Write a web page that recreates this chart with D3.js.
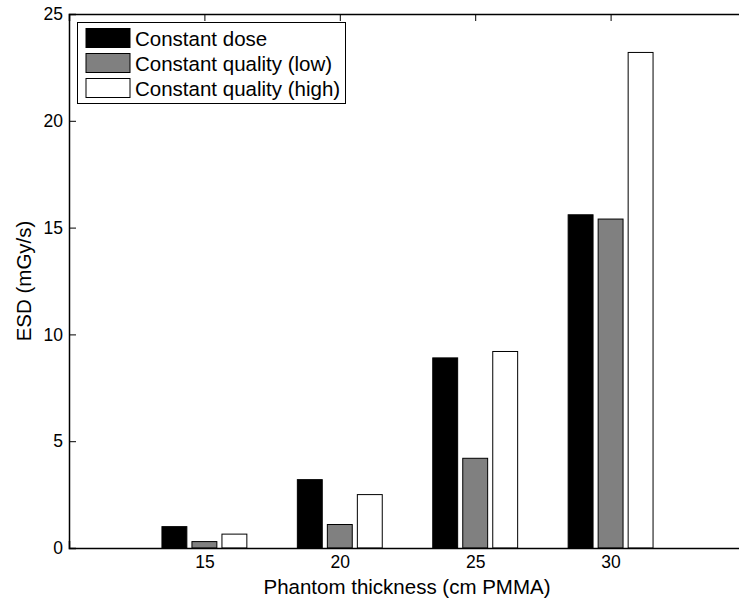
<!DOCTYPE html>
<html>
<head>
<meta charset="utf-8">
<script src="https://cdn.jsdelivr.net/npm/d3@7"></script>
<style>
  html, body { margin: 0; padding: 0; background: #fff; overflow: hidden; }
  svg { display: block; }
  text { font-family: "Liberation Sans", Arial, Helvetica, sans-serif; fill: #000; }
</style>
</head>
<body>
<div id="chart"></div>
<script>
// ---- data ----
const categories = [15, 20, 25, 30];
const seriesNames = ["Constant dose", "Constant quality (low)", "Constant quality (high)"];
const constantDose = [1.0, 3.2, 8.9, 15.6];
const qualityLow = [0.3, 1.1, 4.2, 15.4];
const qualityHigh = [0.65, 2.5, 9.2, 23.2];
const seriesColors = ["#000000", "#808080", "#ffffff"];
const yTicks = [0, 5, 10, 15, 20, 25];
const xTicks = [15, 20, 25, 30];
const xTicksTop = [15, 20, 25, 30, 35];

const series = [constantDose, qualityLow, qualityHigh];

const W = 739, H = 603;
const m = { left: 69, top: 14, right: 746, bottom: 548 };

const svg = d3.select("#chart").append("svg")
  .attr("width", W).attr("height", H);

const x = d3.scaleLinear().domain([10, 35]).range([m.left, m.right]);
const y = d3.scaleLinear().domain([0, 25]).range([m.bottom, m.top]);
const sub = d3.scaleBand().domain(d3.range(series.length))
  .range([-45, 45]).paddingInner(0.17).paddingOuter(0.085);

// bars
series.forEach((vals, si) => {
  svg.append("g").selectAll("rect")
    .data(vals.map((v, i) => ({ c: categories[i], v })))
    .join("rect")
    .attr("x", d => x(d.c) + sub(si))
    .attr("y", d => y(d.v))
    .attr("width", sub.bandwidth())
    .attr("height", d => y(0) - y(d.v))
    .attr("fill", seriesColors[si])
    .attr("stroke", "#000")
    .attr("stroke-width", 1);
});

// axes
const fsTick = 17.5;
const fsTitle = 20.5;
const tickLen = 7;

const yAxis = d3.axisLeft(y).tickValues(yTicks).tickSize(-tickLen).tickPadding(6);
const gy = svg.append("g").attr("transform", `translate(${m.left},0)`).call(yAxis);
const yAxisR = d3.axisRight(y).tickValues(yTicks).tickSize(-tickLen).tickFormat("");
const gyr = svg.append("g").attr("transform", `translate(${m.right},0)`).call(yAxisR);
const xAxis = d3.axisBottom(x).tickValues(xTicks).tickSize(-tickLen).tickPadding(8).tickFormat(d3.format("d"));
const gx = svg.append("g").attr("transform", `translate(0,${m.bottom})`).call(xAxis);
const xAxisT = d3.axisTop(x).tickValues(xTicksTop).tickSize(-tickLen).tickFormat("");
const gxt = svg.append("g").attr("transform", `translate(0,${m.top})`).call(xAxisT);

[gy, gyr, gx, gxt].forEach(g => {
  g.selectAll(".domain").attr("stroke", "#000").attr("stroke-width", 1.5);
  g.selectAll(".tick line").attr("stroke", "#000").attr("stroke-width", 1);
  g.selectAll("text").attr("font-size", fsTick).attr("font-family", "Liberation Sans, Arial, sans-serif").attr("fill", "#000");
});
gx.selectAll(".tick line").remove();
gx.raise();

// axis titles
svg.append("text")
  .attr("x", 407).attr("y", 594)
  .attr("text-anchor", "middle").attr("font-size", fsTitle)
  .text("Phantom thickness (cm PMMA)");
svg.append("text")
  .attr("transform", `translate(31,${(m.top + m.bottom) / 2}) rotate(-90)`)
  .attr("text-anchor", "middle").attr("font-size", fsTitle)
  .text("ESD (mGy/s)");

// legend
const lg = svg.append("g");
lg.append("rect").attr("x", 77.5).attr("y", 22.5).attr("width", 268).attr("height", 81)
  .attr("fill", "#fff").attr("stroke", "#000").attr("stroke-width", 1);
seriesNames.forEach((name, i) => {
  const yy = 28.5 + i * 25;
  lg.append("rect").attr("x", 86).attr("y", yy).attr("width", 44).attr("height", 19)
    .attr("fill", seriesColors[i]).attr("stroke", "#000").attr("stroke-width", 1);
  lg.append("text").attr("x", 135).attr("y", yy + 17.5).attr("font-size", fsTitle).text(name);
});
</script>
</body>
</html>
